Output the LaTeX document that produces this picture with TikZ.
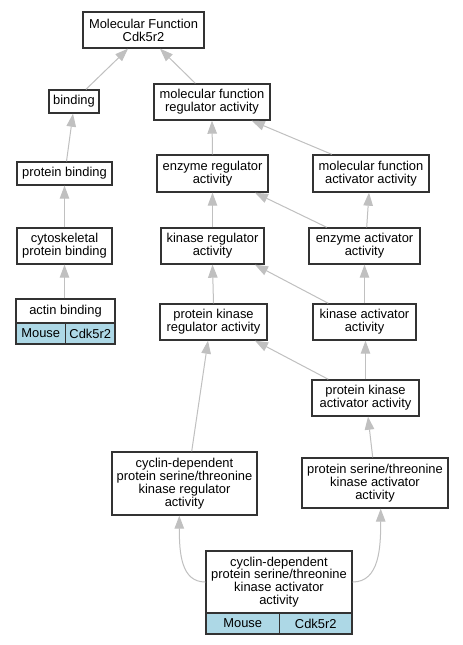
\documentclass[tikz,border=0pt]{standalone}
\usepackage{fontspec}
\setmainfont{Liberation Sans}
\usetikzlibrary{arrows.meta}
\definecolor{edgegray}{HTML}{C0C0C0}
\definecolor{boxline}{HTML}{333333}
\definecolor{cellblue}{HTML}{ADD8E6}
\tikzset{
  box/.style={draw=boxline, line width=1.4pt, fill=white, inner sep=0pt, align=center,
    font=\fontsize{12.9}{12.8}\selectfont},
  cell/.style={box, fill=cellblue},
  edge/.style={draw=edgegray, line width=1pt,
    -{Triangle[length=13pt, width=9.5pt, fill=edgegray]}},
}
\begin{document}
\begin{tikzpicture}[x=1pt, y=-1pt]
\useasboundingbox[fill=white] (0,0) rectangle (463,645);
% nodes
\node[box, minimum width=121pt, minimum height=36pt] (mf) at (143.5,30) {Molecular Function\\Cdk5r2};
\node[box, minimum width=50pt, minimum height=23pt] (binding) at (74,101.5) {binding};
\node[box, minimum width=116pt, minimum height=36pt] (mfra) at (212,102) {molecular function\\regulator activity};
\node[box, minimum width=95pt, minimum height=23pt] (pb) at (64.5,173.5) {protein binding};
\node[box, minimum width=111pt, minimum height=37pt] (era) at (212.5,173.5) {enzyme regulator\\activity};
\node[box, minimum width=116pt, minimum height=37pt] (mfaa) at (371,173.5) {molecular function\\activator activity};
\node[box, minimum width=95pt, minimum height=36pt] (cpb) at (64.5,246) {cytoskeletal\\protein binding};
\node[box, minimum width=103pt, minimum height=36pt] (kra) at (212.5,246) {kinase regulator\\activity};
\node[box, minimum width=111pt, minimum height=36pt] (eaa) at (364.5,246) {enzyme activator\\activity};
\node[box, minimum width=99pt, minimum height=24pt] (actin) at (65.5,311) {actin binding};
\node[cell, minimum width=49.5pt, minimum height=21pt] (actmouse) at (40.75,333.5) {Mouse};
\node[cell, minimum width=49.5pt, minimum height=21pt] (actgene) at (90.25,333.5) {Cdk5r2};
\node[box, minimum width=107pt, minimum height=36pt] (pkra) at (213.5,322) {protein kinase\\regulator activity};
\node[box, minimum width=103pt, minimum height=36pt] (kaa) at (364.5,322) {kinase activator\\activity};
\node[box, minimum width=107pt, minimum height=36pt] (pkaa) at (365.5,398) {protein kinase\\activator activity};
\node[box, minimum width=145pt, minimum height=63pt] (cdkra) at (184.5,483.5) {cyclin-dependent\\protein serine/threonine\\kinase regulator\\activity};
\node[box, minimum width=146pt, minimum height=50pt] (pstka) at (375,483) {protein serine/threonine\\kinase activator\\activity};
\node[box, minimum width=146pt, minimum height=62pt] (bt) at (279,582) {cyclin-dependent\\protein serine/threonine\\kinase activator\\activity};
\node[cell, minimum width=73.5pt, minimum height=21pt] (btmouse) at (242.75,623.5) {Mouse};
\node[cell, minimum width=72.5pt, minimum height=21pt] (btgene) at (315.75,623.5) {Cdk5r2};
% edges
\draw[edge] ([xshift=12pt]binding.north) -- ([xshift=-15.5pt]mf.south);
\draw[edge] ([xshift=-16.7pt]mfra.north) -- ([xshift=16.5pt]mf.south);
\draw[edge] ([xshift=2pt]pb.north) -- ([xshift=-1pt]binding.south);
\draw[edge] (era.north) -- (mfra.south);
\draw[edge] ([xshift=-39.3pt]mfaa.north) -- ([xshift=39.7pt]mfra.south);
\draw[edge] (cpb.north) -- (pb.south);
\draw[edge] (kra.north) -- (era.south);
\draw[edge] ([xshift=-37.8pt]eaa.north) -- ([xshift=42.5pt]era.south);
\draw[edge] ([xshift=2.2pt]eaa.north) -- ([xshift=-2pt]mfaa.south);
\draw[edge] ([xshift=-1pt]actin.north) -- (cpb.south);
\draw[edge] (pkra.north) -- (kra.south);
\draw[edge] ([xshift=-36.2pt]kaa.north) -- ([xshift=42.5pt]kra.south);
\draw[edge] (kaa.north) -- (eaa.south);
\draw[edge] (pkaa.north) -- ([xshift=1pt]kaa.south);
\draw[edge] ([xshift=-37.2pt]pkaa.north) -- ([xshift=41.5pt]pkra.south);
\draw[edge] ([xshift=7.2pt]cdkra.north) -- ([xshift=-5.5pt]pkra.south);
\draw[edge] ([xshift=-2.3pt]pstka.north) -- ([xshift=2.5pt]pkaa.south);
\draw[edge] (bt.west) .. controls +(-24,0) and +(0,38) .. ([xshift=-5.2pt]cdkra.south);
\draw[edge] (bt.east) .. controls +(27,0) and +(0,38) .. ([xshift=5.7pt]pstka.south);
\end{tikzpicture}
\end{document}
